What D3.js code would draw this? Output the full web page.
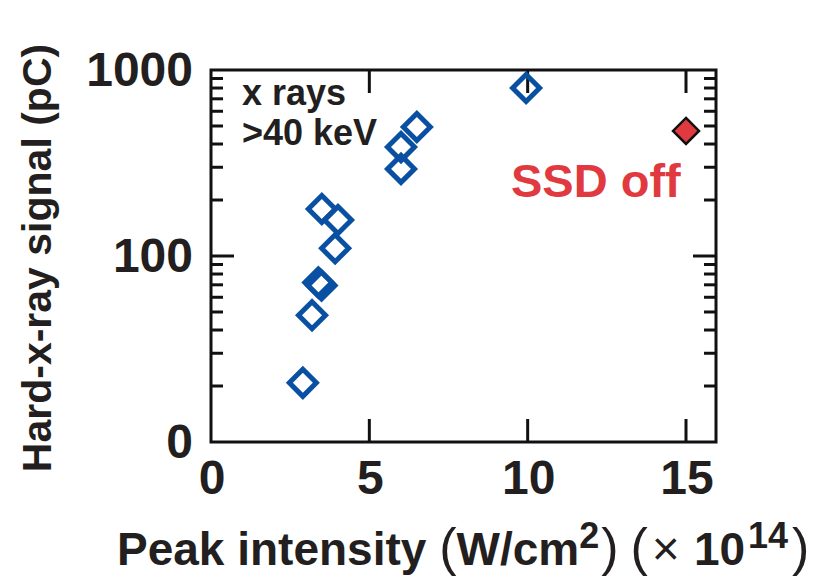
<!DOCTYPE html>
<html>
<head>
<meta charset="utf-8">
<script src="https://cdn.jsdelivr.net/npm/d3@7"></script>
<style>
  body { margin: 0; background: #fff; }
  svg text { font-family: "Liberation Sans", Arial, sans-serif; font-weight: bold; }
</style>
</head>
<body>
<div id="d3"></div>
<script>
// peak intensity (x 10^14 W/cm2) and hard-x-ray signal (pC)
const intensity = [2.9, 3.19, 3.39, 3.49, 3.5, 3.92, 4.01, 6.0, 6.0, 6.5, 9.95];
const signal = [20.8, 48, 72, 69.4, 179, 110, 156, 294, 385, 494, 800];
const offIntensity = [15];
const offSignal = [470];
const xTicks = [0, 5, 10, 15];
const yTicks = [10, 100, 1000];
const yTickLabels = ["0", "100", "1000"];

const width = 813;
const height = 577;
const box = { left: 211, right: 716, top: 70, bottom: 442 };

const svg = d3.select("#d3").append("svg").attr("width", width).attr("height", height);

const x = d3.scaleLinear().domain([0, 15]).range([box.left, 686]);
const y = d3.scaleLog().domain([10, 1000]).range([box.bottom, box.top]);

// minor ticks on the log axis
const minor = [];
for (const dec of [10, 100]) for (let k = 2; k <= 9; k++) minor.push(dec * k);

const ticks = svg.append("g").attr("stroke", "#111").attr("stroke-width", 3);
minor.forEach((v) => {
  ticks.append("line").attr("x1", box.left).attr("x2", box.left + 12).attr("y1", y(v)).attr("y2", y(v));
  ticks.append("line").attr("x1", box.right).attr("x2", box.right - 12).attr("y1", y(v)).attr("y2", y(v));
});
ticks.append("line").attr("x1", box.left).attr("x2", box.left + 23).attr("y1", y(100)).attr("y2", y(100));
ticks.append("line").attr("x1", box.right).attr("x2", box.right - 23).attr("y1", y(100)).attr("y2", y(100));
xTicks.slice(1).forEach((v) => {
  ticks.append("line").attr("x1", x(v)).attr("x2", x(v)).attr("y1", box.bottom).attr("y2", box.bottom - 23);
  ticks.append("line").attr("x1", x(v)).attr("x2", x(v)).attr("y1", box.top).attr("y2", box.top + 23);
});

svg.append("rect")
  .attr("x", box.left).attr("y", box.top)
  .attr("width", box.right - box.left).attr("height", box.bottom - box.top)
  .attr("fill", "none").attr("stroke", "#111").attr("stroke-width", 3);

// tick labels
svg.append("g").selectAll("text").data(xTicks).join("text")
  .attr("x", (d) => x(d) + 1).attr("y", 494)
  .attr("text-anchor", "middle").attr("font-size", 48).attr("fill", "#231f20")
  .text((d) => d);

svg.append("g").selectAll("text").data(yTicks).join("text")
  .attr("x", 193).attr("y", (d) => y(d) + 16)
  .attr("text-anchor", "end").attr("font-size", 48).attr("fill", "#231f20")
  .text((d, i) => yTickLabels[i]);

// axis titles
svg.append("text")
  .attr("transform", "translate(51,258) rotate(-90)")
  .attr("text-anchor", "middle").attr("font-size", 41).attr("fill", "#231f20")
  .text("Hard-x-ray signal (pC)");

const xt = svg.append("text")
  .attr("x", 117).attr("y", 565).attr("font-size", 46).attr("fill", "#231f20");
xt.append("tspan").text("Peak intensity ");
xt.append("tspan").attr("font-weight", "normal").attr("font-size", 52).text("(");
xt.append("tspan").text("W/cm");
xt.append("tspan").attr("font-size", 36).attr("dy", -17).text("2");
xt.append("tspan").attr("dy", 17).attr("dx", 2).attr("font-weight", "normal").attr("font-size", 52).text(")");
xt.append("tspan").attr("dx", 12).attr("font-weight", "normal").attr("font-size", 52).text("(");
xt.append("tspan").attr("dx", 4).attr("font-weight", "normal").attr("font-size", 48).text("×");
xt.append("tspan").attr("dx", 14).text("10");
xt.append("tspan").attr("font-size", 36).attr("dy", -17).attr("dx", 3).text("14");
xt.append("tspan").attr("dy", 17).attr("dx", 4).attr("font-weight", "normal").attr("font-size", 52).text(")");

// annotations
svg.append("text").attr("x", 242).attr("y", 105).attr("font-size", 36).attr("fill", "#231f20").text("x rays");
svg.append("text").attr("x", 242).attr("y", 145).attr("font-size", 36).attr("fill", "#231f20").text(">40 keV");
svg.append("text").attr("x", 511).attr("y", 197).attr("font-size", 47).attr("fill", "#e03a40").text("SSD off");

// diamonds
const diamond = (r) => `M0,${-r}L${r},0L0,${r}L${-r},0Z`;

svg.append("g").selectAll("path").data(intensity).join("path")
  .attr("d", diamond(13.5))
  .attr("transform", (d, i) => `translate(${x(d)},${y(signal[i])})`)
  .attr("fill", "none").attr("stroke", "#0a50a2").attr("stroke-width", 5);

svg.append("g").selectAll("path").data(offIntensity).join("path")
  .attr("d", diamond(13))
  .attr("transform", (d, i) => `translate(${x(d)},${y(offSignal[i])})`)
  .attr("fill", "#e03a40").attr("stroke", "#111").attr("stroke-width", 2.5);
</script>
</body>
</html>
